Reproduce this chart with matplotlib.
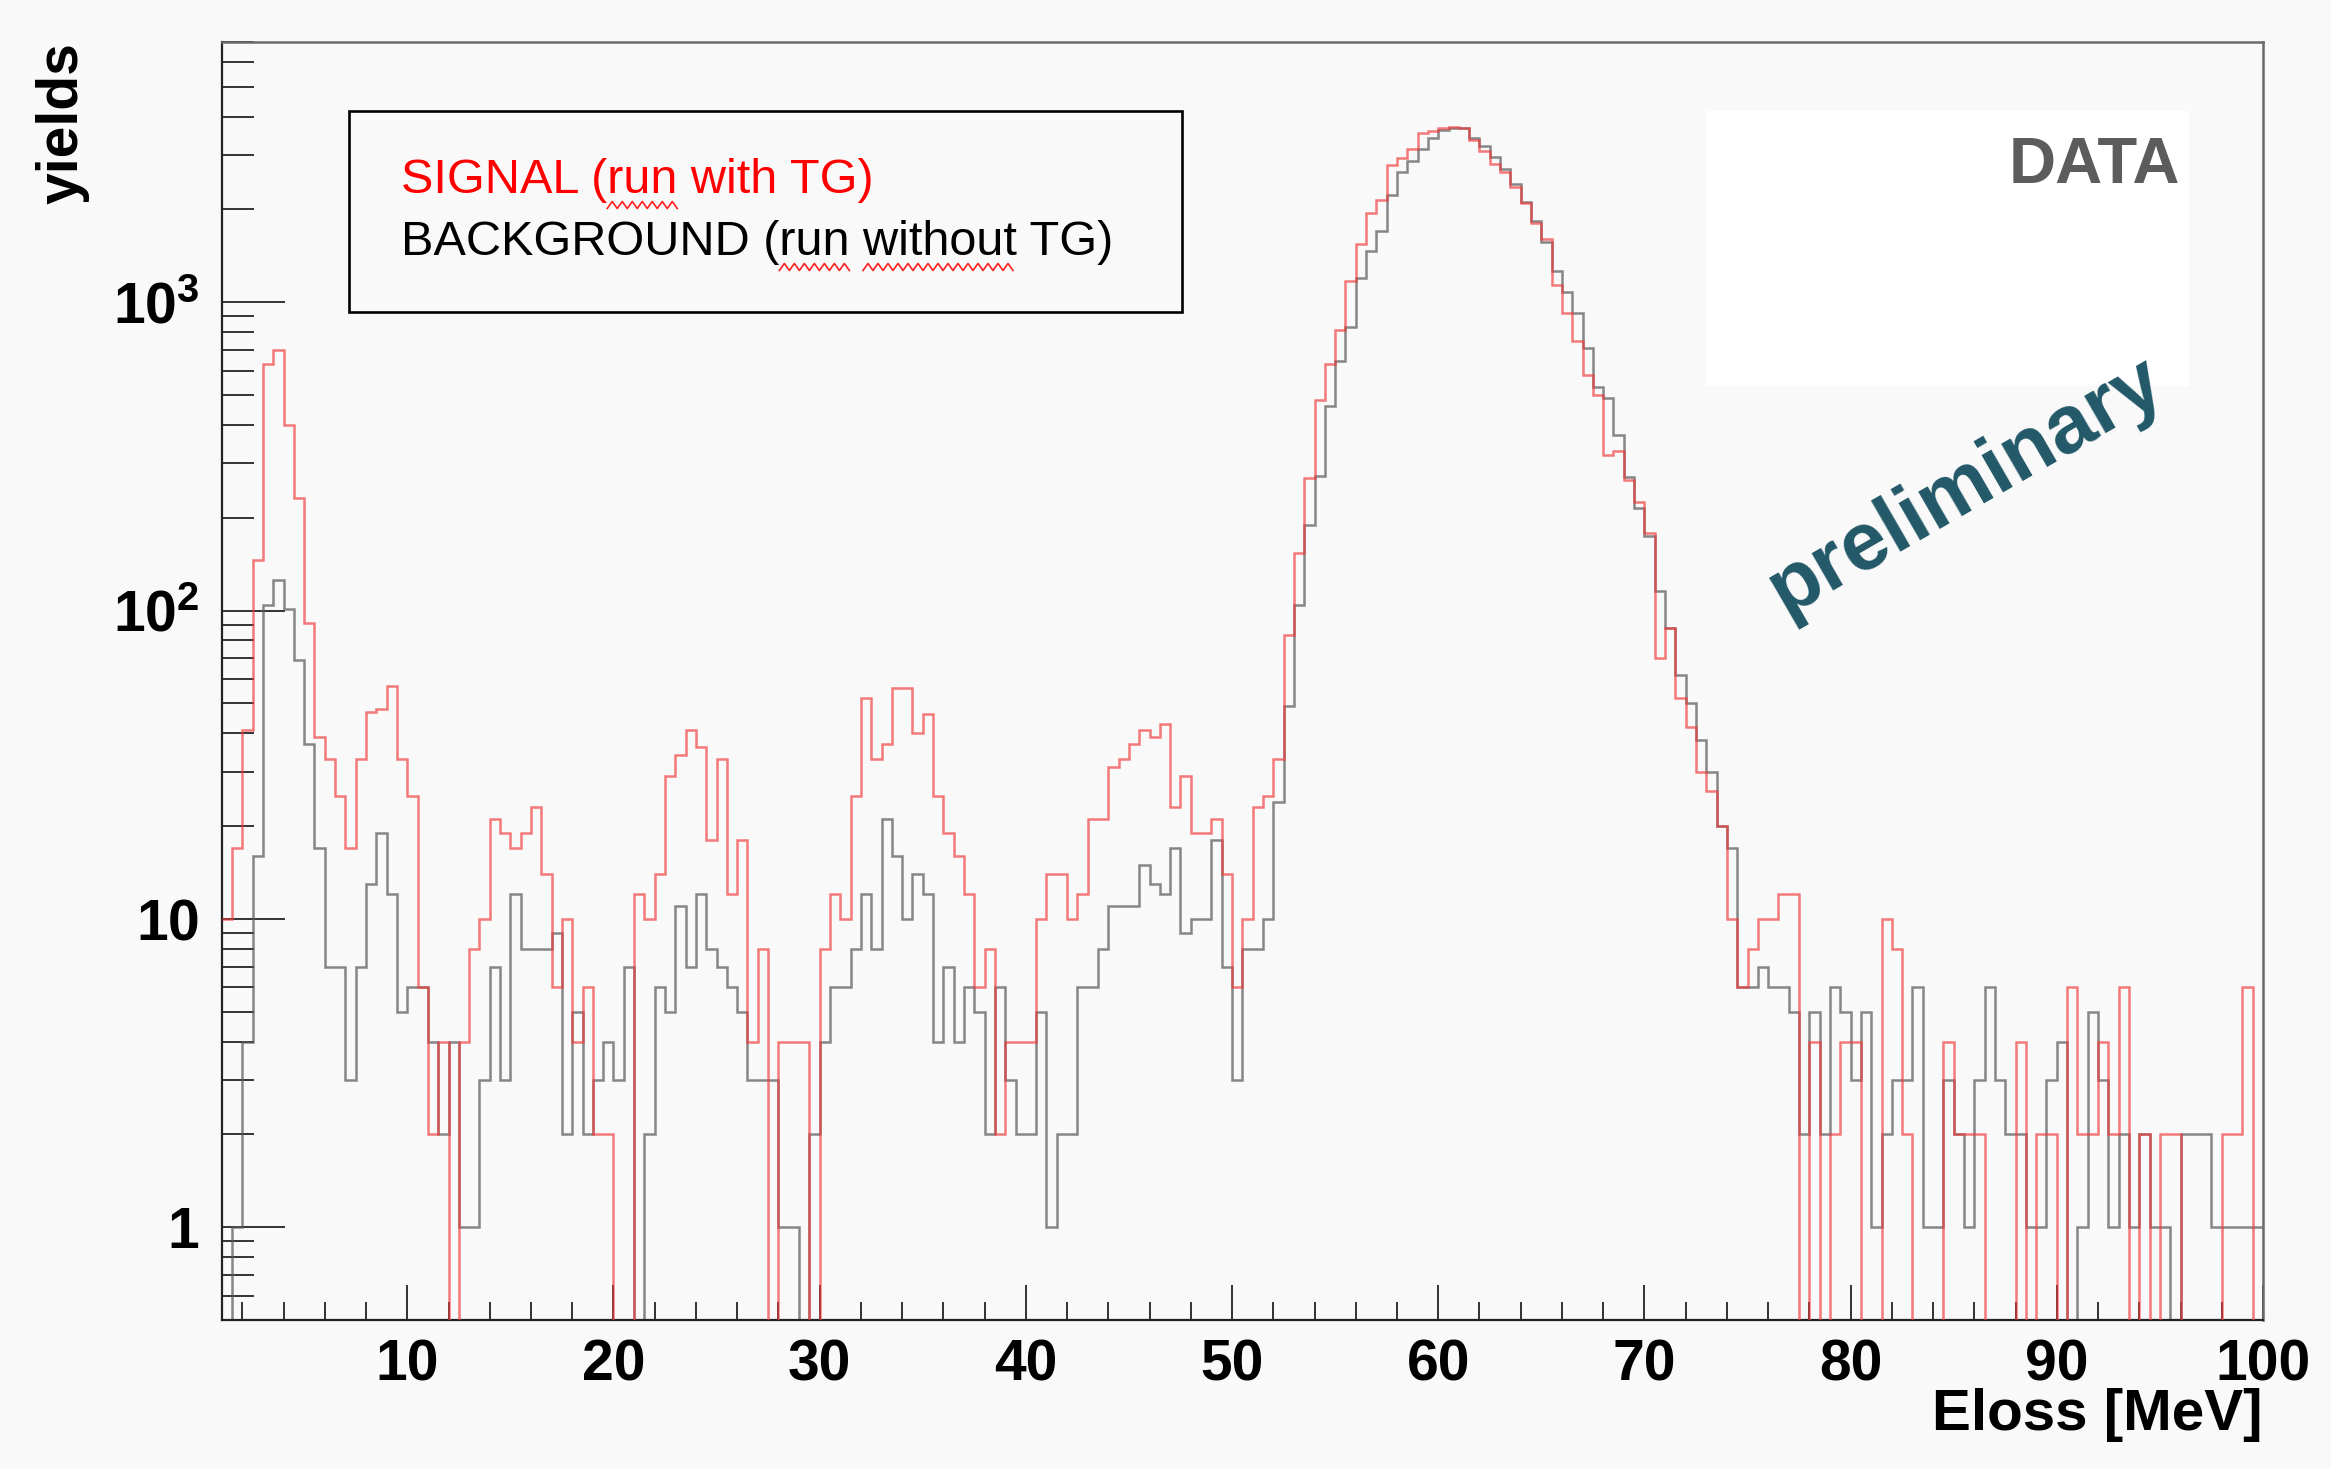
import numpy as np
import matplotlib.pyplot as plt
from matplotlib.lines import Line2D
from matplotlib.patches import Rectangle
from matplotlib.ticker import FixedLocator, FixedFormatter, LogLocator, MultipleLocator, NullFormatter

plt.rcParams['font.family'] = ['Liberation Sans', 'DejaVu Sans']
plt.rcParams['mathtext.fontset'] = 'custom'
plt.rcParams['mathtext.rm'] = 'Liberation Sans'
plt.rcParams['mathtext.bf'] = 'Liberation Sans:bold'

# Eloss binning: 0.5 MeV bins from 1 to 100 MeV
bin_lo, bin_hi, bin_w = 1.0, 100.0, 0.5

# counts per bin, run with target (signal)
signal_counts = [
    10, 17, 41, 146, 630, 700, 400, 232, 91, 39,
    33, 25, 17, 33, 47, 48, 57, 33, 25, 6,
    2, 4, 0, 4, 8, 10, 21, 19, 17, 19,
    23, 14, 6, 10, 4, 6, 2, 2, 0, 0,
    12, 10, 14, 29, 34, 41, 36, 18, 33, 12,
    18, 4, 8, 0, 4, 4, 4, 0, 8, 12,
    10, 25, 52, 33, 37, 56, 56, 40, 46, 25,
    19, 16, 12, 6, 8, 2, 4, 4, 4, 10,
    14, 14, 10, 12, 21, 21, 31, 33, 37, 41,
    39, 43, 23, 29, 19, 19, 21, 14, 6, 10,
    23, 25, 33, 83, 154, 270, 480, 630, 815, 1170,
    1540, 1950, 2150, 2790, 2930, 3140, 3540, 3600, 3680, 3700,
    3680, 3350, 3100, 2810, 2640, 2370, 2090, 1800, 1600, 1140,
    920, 750, 580, 500, 320, 330, 265, 225, 178, 70,
    88, 52, 42, 30, 26, 20, 10, 6, 8, 10,
    10, 12, 12, 0, 4, 0, 2, 4, 4, 0,
    0, 10, 8, 2, 0, 0, 0, 4, 2, 2,
    2, 0, 0, 0, 4, 0, 2, 2, 0, 6,
    2, 2, 4, 2, 6, 0, 2, 0, 2, 2,
    0, 0, 0, 0, 2, 2, 6, 0,
]

# counts per bin, run without target (background)
background_counts = [
    0, 1, 4, 16, 104, 126, 101, 69, 37, 17,
    7, 7, 3, 7, 13, 19, 12, 5, 6, 6,
    4, 2, 4, 1, 1, 3, 7, 3, 12, 8,
    8, 8, 9, 2, 5, 2, 3, 4, 3, 7,
    0, 2, 6, 5, 11, 7, 12, 8, 7, 6,
    5, 3, 3, 3, 1, 1, 0, 2, 4, 6,
    6, 8, 12, 8, 21, 16, 10, 14, 12, 4,
    7, 4, 6, 5, 2, 6, 3, 2, 2, 5,
    1, 2, 2, 6, 6, 8, 11, 11, 11, 15,
    13, 12, 17, 9, 10, 10, 18, 7, 3, 8,
    8, 10, 24, 49, 104, 189, 274, 462, 644, 830,
    1200, 1470, 1700, 2230, 2640, 2880, 3140, 3420, 3630, 3680,
    3680, 3420, 3200, 2960, 2700, 2420, 2120, 1830, 1570, 1260,
    1080, 920, 710, 530, 490, 370, 272, 215, 174, 116,
    88, 62, 50, 38, 30, 20, 17, 6, 6, 7,
    6, 6, 5, 2, 5, 2, 6, 5, 3, 5,
    1, 2, 3, 3, 6, 1, 1, 3, 2, 1,
    3, 6, 3, 2, 2, 1, 1, 3, 4, 0,
    1, 5, 3, 1, 2, 1, 2, 1, 1, 0,
    2, 2, 2, 1, 1, 1, 1, 1,
]

x_ticks = [10, 20, 30, 40, 50, 60, 70, 80, 90, 100]
y_ticks = [1, 10, 100, 1000]
y_tick_labels = [r'$\mathbf{1}$', r'$\mathbf{10}$', r'$\mathbf{10^{2}}$', r'$\mathbf{10^{3}}$']

BG = '#f9f9f9'
W, H = 2331, 1469

edges = np.arange(bin_lo, bin_hi + bin_w / 2, bin_w)
sig = np.array(signal_counts, dtype=float)
bkg = np.array(background_counts, dtype=float)
# empty bins are drawn down past the bottom of the frame
floor = 1e-2
sig = np.where(sig > 0, sig, floor)
bkg = np.where(bkg > 0, bkg, floor)

fig = plt.figure(figsize=(W / 100, H / 100), dpi=100)
fig.patch.set_facecolor(BG)
ax = fig.add_axes([221.7 / W, 1 - 1320 / H, (2263 - 221.7) / W, (1320 - 41.6) / H])
ax.set_facecolor(BG)

ax.stairs(bkg, edges, baseline=None, color='#5a5a5a', lw=1.8, alpha=0.72, zorder=2)
ax.stairs(sig, edges, baseline=None, color='#f03c3c', lw=1.8, alpha=0.68, zorder=3)

ax.set_yscale('log')
ax.set_xlim(bin_lo, bin_hi)
ax.set_ylim(0.5, 7000)

ax.xaxis.set_major_locator(FixedLocator(x_ticks))
ax.xaxis.set_minor_locator(MultipleLocator(2))
ax.yaxis.set_major_locator(FixedLocator(y_ticks))
ax.yaxis.set_major_formatter(FixedFormatter(y_tick_labels))
ax.yaxis.set_minor_locator(LogLocator(base=10, subs=np.arange(2, 10), numticks=30))
ax.yaxis.set_minor_formatter(NullFormatter())

ax.tick_params(axis='x', which='major', direction='in', length=25, width=1.4,
               color='#333333', pad=13, labelsize=41)
ax.tick_params(axis='x', which='minor', direction='in', length=13, width=1.4, color='#333333')
ax.tick_params(axis='y', which='major', direction='in', length=45, width=1.4,
               color='#333333', pad=16, labelsize=41)
ax.tick_params(axis='y', which='minor', direction='in', length=23, width=1.4, color='#333333')
ax.tick_params(top=False, right=False)
for lab in ax.get_xticklabels():
    lab.set_fontweight('bold')

for side in ['left', 'bottom']:
    ax.spines[side].set_color('#222222')
    ax.spines[side].set_linewidth(1.6)
for side in ['top', 'right']:
    ax.spines[side].set_color('#6a6a6a')
    ax.spines[side].set_linewidth(1.8)

# axis titles
fig.text(62 / W, 1 - 42 / H, 'yields', rotation=90, ha='center', va='top',
         fontsize=41, fontweight='bold')
fig.text(2262 / W, 1 - 1415 / H, 'Eloss [MeV]', ha='right', va='center',
         fontsize=42, fontweight='bold')

# legend box
fig.add_artist(Rectangle((349 / W, 1 - 312 / H), (1182 - 349) / W, (312 - 111) / H,
                         transform=fig.transFigure, facecolor='none',
                         edgecolor='black', lw=1.9, zorder=5))
legend_size = 35
sig_text = fig.text(401 / W, 1 - 193 / H, 'SIGNAL (run with TG)', color='#ff0000',
                    fontsize=legend_size, va='baseline', ha='left', zorder=6)
bkg_text = fig.text(401 / W, 1 - 255 / H, 'BACKGROUND (run without TG)', color='black',
                    fontsize=legend_size, va='baseline', ha='left', zorder=6)

# DATA label on a white patch
fig.add_artist(Rectangle((1706 / W, 1 - 386 / H), (2189 - 1706) / W, (386 - 111) / H,
                         transform=fig.transFigure, facecolor='white',
                         edgecolor='none', zorder=4))
fig.text(2180 / W, 1 - 183 / H, 'DATA', ha='right', va='baseline', fontsize=47,
         fontweight='bold', color='#5c5c5c', zorder=6)

fig.text(1966 / W, 1 - 486 / H, 'preliminary', rotation=30, ha='center', va='center',
         fontsize=59, fontweight='bold', color='#225868', zorder=6)


def squiggle_under(text_obj, prefix, word, renderer):
    # wavy red underline below `word`, which follows `prefix` in text_obj
    def width(s):
        tmp = fig.text(0, 0, s, fontsize=text_obj.get_fontsize(),
                       fontfamily=text_obj.get_fontfamily())
        w = tmp.get_window_extent(renderer).width
        tmp.remove()
        return w

    x0, y0 = fig.transFigure.transform(text_obj.get_position())
    x_end = x0 + width(prefix + word)
    x_start = x_end - width(word)
    xs = np.arange(x_start, x_end + 1, 5.0)
    ys = y0 - 12 + np.where(np.arange(len(xs)) % 2 == 0, -3.5, 3.5)
    pts = fig.transFigure.inverted().transform(np.column_stack([xs, ys]))
    fig.add_artist(Line2D(pts[:, 0], pts[:, 1], transform=fig.transFigure,
                          color='#ff2020', lw=1.2, zorder=6))


fig.canvas.draw()
renderer = fig.canvas.get_renderer()
squiggle_under(sig_text, 'SIGNAL (', 'run', renderer)
squiggle_under(bkg_text, 'BACKGROUND (', 'run', renderer)
squiggle_under(bkg_text, 'BACKGROUND (run ', 'without', renderer)

fig.savefig('out.png', dpi=100, facecolor=BG)
